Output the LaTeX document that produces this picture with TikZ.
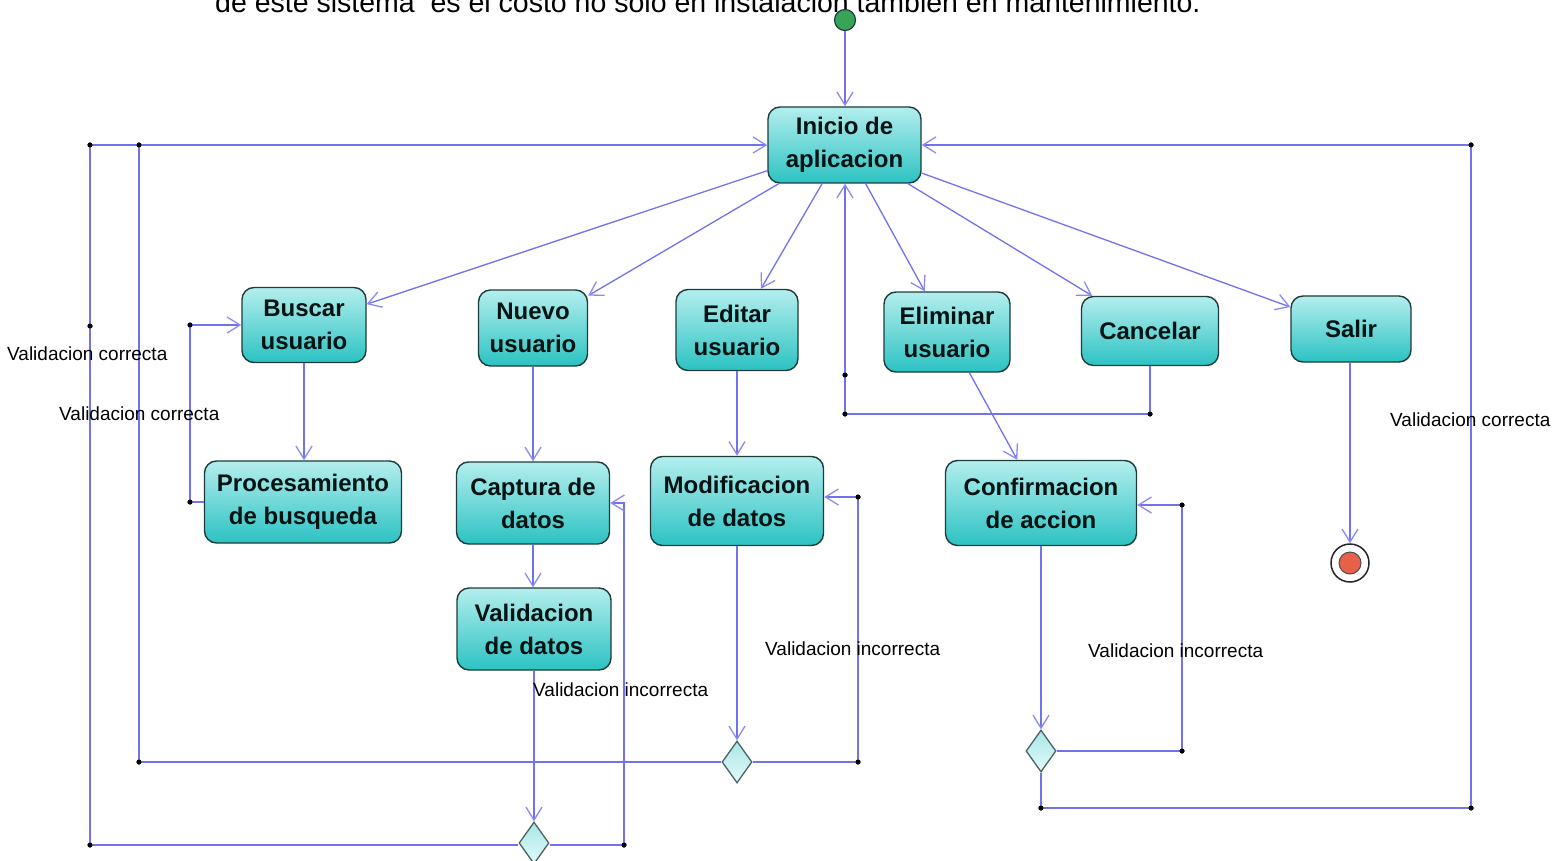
\documentclass[tikz,border=0pt]{standalone}
\usepackage{fontspec}
\setmainfont{Liberation Sans}
\usetikzlibrary{arrows.meta,shapes.geometric}
\definecolor{cyanlight}{HTML}{B4EEEE}
\definecolor{cyandark}{HTML}{2CC2C2}
\definecolor{boxborder}{HTML}{1E3C3C}
\definecolor{lineblue}{HTML}{7272EE}
\definecolor{tipblue}{HTML}{8A8AF4}
\definecolor{decfilltop}{HTML}{A8E6E6}
\definecolor{decfillbot}{HTML}{E4FAFA}
\definecolor{startgreen}{HTML}{38A458}
\definecolor{endred}{HTML}{E8604A}
\newcommand{\actfont}{\fontsize{24}{33}\selectfont\bfseries}
\newcommand{\labfont}{\fontsize{19}{22}\selectfont}
\newcommand{\topfont}{\fontsize{28.5}{32}\selectfont}
\tikzset{
  act/.style={rectangle, rounded corners=12pt, draw=boxborder, line width=1.4pt,
    top color=cyanlight, bottom color=cyandark, font=\actfont, align=center,
    inner sep=2pt, text=black!85!teal},
  flow/.style={draw=lineblue, line width=1.3pt},
  arr/.style={flow, -{Straight Barb[length=13pt,width=16pt,line width=1.3pt,color=tipblue]}},
  jdot/.style={circle, fill=black, inner sep=0pt, minimum size=5pt},
  dec/.style={diamond, draw=boxborder!80, line width=1.3pt, top color=decfilltop,
    bottom color=decfillbot, minimum width=30pt, minimum height=42pt, inner sep=0pt},
  lab/.style={font=\labfont, anchor=west, inner sep=0pt}
}
\begin{document}
\begin{tikzpicture}[x=1pt,y=-1pt]
\useasboundingbox (0,0) rectangle (1558,861);
\clip (0,0) rectangle (1558,861);
\fill[white] (0,0) rectangle (1558,861);

% caption line, cut off at the top edge as in the reference
\node[anchor=base west, font=\topfont, inner sep=0pt] (toptext) at (215,13)
  {de este sistema~ es el costo no solo en instalacion tambien en mantenimiento.};

% start / end
\node[circle, draw=boxborder, line width=1.2pt, fill=startgreen, minimum size=21pt, inner sep=0pt] (start) at (845,20) {};
\node[circle, draw=black!85, line width=1.5pt, fill=white, minimum size=38pt, inner sep=0pt] (endn) at (1350,563) {};
\node[circle, draw=black!70, line width=1pt, fill=endred, minimum size=22pt, inner sep=0pt] (endin) at (1350,563) {};

% activities
\node[act, minimum width=153pt, minimum height=76pt] (inicio) at (844.5,145) {Inicio de\\aplicacion};
\node[act, minimum width=124pt, minimum height=75pt] (buscar) at (304,325) {Buscar\\usuario};
\node[act, minimum width=109pt, minimum height=76pt] (nuevo) at (533,328) {Nuevo\\usuario};
\node[act, minimum width=122pt, minimum height=81pt] (editar) at (737,330) {Editar\\usuario};
\node[act, minimum width=126pt, minimum height=80pt] (eliminar) at (947,332) {Eliminar\\usuario};
\node[act, minimum width=137pt, minimum height=69pt] (cancelar) at (1150,331) {Cancelar};
\node[act, minimum width=120pt, minimum height=66pt] (salir) at (1351,329) {Salir};
\node[act, minimum width=197pt, minimum height=82pt] (proc) at (303,502) {Procesamiento\\de busqueda};
\node[act, minimum width=153pt, minimum height=82pt] (captura) at (533,503) {Captura de\\datos};
\node[act, minimum width=173pt, minimum height=89pt] (modif) at (737,501) {Modificacion\\de datos};
\node[act, minimum width=191pt, minimum height=85pt] (conf) at (1041,503) {Confirmacion\\de accion};
\node[act, minimum width=154pt, minimum height=82pt] (valid) at (534,629) {Validacion\\de datos};

% decisions
\node[dec] (dm) at (737,762) {};
\node[dec] (dc) at (1041,751) {};
\node[dec] (dv) at (534,843) {};

% junction points
\node[jdot] (c1) at (624,845) {};
\coordinate (c2) at (624,503);
\node[jdot] (c3) at (90,845) {};
\node[jdot] (c4) at (90,326) {};
\node[jdot] (c5) at (90,145) {};
\node[jdot] (c6) at (858,762) {};
\node[jdot] (c7) at (858,497) {};
\node[jdot] (c8) at (139,145) {};
\node[jdot] (c9) at (139,762) {};
\node[jdot] (c10) at (1182,751) {};
\node[jdot] (c11) at (1182,505) {};
\node[jdot] (c12) at (1041,808) {};
\node[jdot] (c13) at (1471,808) {};
\node[jdot] (c14) at (1471,145) {};
\node[jdot] (c15) at (1150,414) {};
\node[jdot] (c16) at (845,414) {};
\node[jdot] (c17) at (845,375) {};
\node[jdot] (d1) at (190,325) {};
\node[jdot] (d2) at (190,502) {};

% main flow
\draw[arr] (start) -- (start |- inicio.north);
\draw[arr] (inicio) -- (buscar);
\draw[arr] (inicio) -- (nuevo);
\draw[arr] (inicio) -- (editar);
\draw[arr] (inicio) -- (eliminar);
\draw[arr] (inicio) -- (cancelar);
\draw[arr] (inicio) -- (salir);
\draw[arr] (buscar.south) -- (buscar.south |- proc.north);
\draw[arr] (nuevo.south) -- (nuevo.south |- captura.north);
\draw[arr] (captura.south) -- (captura.south |- valid.north);
\draw[arr] (editar.south) -- (editar.south |- modif.north);
\draw[arr] (eliminar) -- (conf);
\draw[arr] (valid.south) -- (valid.south |- dv.north);
\draw[arr] (modif.south) -- (dm.north);
\draw[arr] (conf.south) -- (conf.south |- dc.north);
\draw[arr] (salir.south -| endn) -- (endn.north);

% loops
\draw[arr] (proc.west |- d2) -- (d2.center) -- (d1.center) -- (d1 -| buscar.west);
\draw[arr] (dv.east |- c1) -- (c1.center) -- (c2) -- (c2 -| captura.east);
\draw[arr] (dv.west |- c3) -- (c3.center) -- (c5.center) -- (inicio.west);
\draw[flow] (dm.west) -- (c9.center) -- (c8.center);
\draw[arr] (dm.east) -- (c6.center) -- (c7.center) -- (c7 -| modif.east);
\draw[arr] (dc.east) -- (c10.center) -- (c11.center) -- (c11 -| conf.east);
\draw[arr] (dc.south) -- (c12.center) -- (c13.center) -- (c14.center) -- (inicio.east);
\draw[arr] (cancelar.south) -- (c15.center) -- (c16.center) -- (c17.center) -- (c16 |- inicio.south);
\foreach \n in {c1,c3,c4,c5,c6,c7,c8,c9,c10,c11,c12,c13,c14,c15,c16,c17,d1,d2}
  \fill (\n) circle (2.5pt);

% labels
\node[lab] (l1) at (7,354) {Validacion correcta};
\node[lab] (l2) at (59,414) {Validacion correcta};
\node[lab] (l3) at (533,690) {Validacion incorrecta};
\node[lab] (l4) at (765,649) {Validacion incorrecta};
\node[lab] (l5) at (1088,651) {Validacion incorrecta};
\node[lab] (l6) at (1390,420) {Validacion correcta};
\end{tikzpicture}
\end{document}
